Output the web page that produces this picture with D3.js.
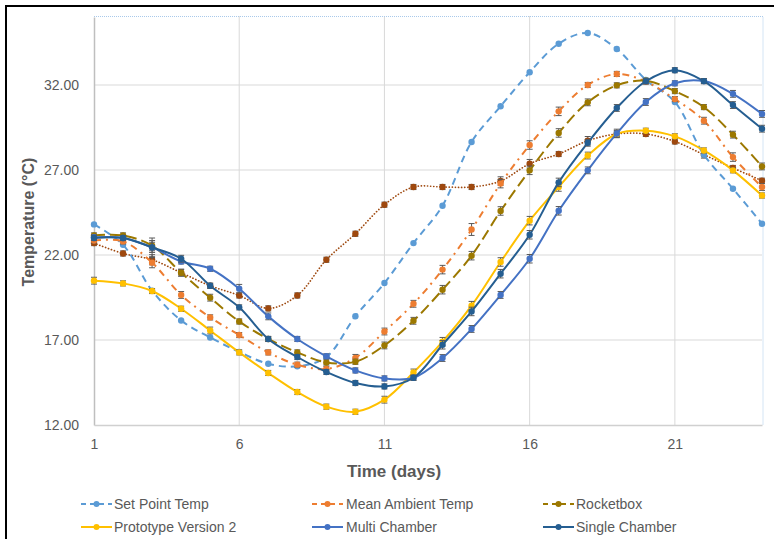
<!DOCTYPE html>
<html lang="en">
<head>
	<meta charset="UTF-8">
	<title>Temperature over time</title>

	<script type="text/javascript" src="https://cdn.jsdelivr.net/npm/d3@7"></script>

	<style>
		body {
			margin: 0;
			background: #fff;
		}
		text {
			font-family: "Liberation Sans", Arial, sans-serif;
			fill: #595959;
		}
	</style>

</head>
<body>

<script type="text/javascript">
	var days = [1, 2, 3, 4, 5, 6, 7, 8, 9, 10, 11, 12, 13, 14, 15, 16, 17, 18, 19, 20, 21, 22, 23, 24];
	var xTicks = [1, 6, 11, 16, 21];
	var yTicks = [12, 17, 22, 27, 32];

	var setPoint = [23.8, 22.6, 19.9, 18.15, 17.15, 16.3, 15.6, 15.45, 16.0, 18.4, 20.35, 22.7, 24.9, 28.65, 30.75, 32.75, 34.43, 35.06, 34.12, 32.3, 31.0, 27.9, 25.9, 23.84];
	var meanAmbient = [22.85, 22.8, 21.55, 19.65, 18.33, 17.29, 16.27, 15.55, 15.3, 15.95, 17.5, 19.13, 21.14, 23.5, 26.2, 28.47, 30.45, 32.0, 32.65, 32.2, 31.17, 29.9, 27.76, 26.0];
	var rocketbox = [23.15, 23.15, 22.55, 20.96, 19.49, 18.09, 17.06, 16.27, 15.68, 15.72, 16.68, 18.13, 19.96, 21.96, 24.59, 26.98, 29.18, 30.98, 31.98, 32.25, 31.64, 30.7, 29.08, 27.21];
	var prototype2 = [20.49, 20.33, 19.88, 18.84, 17.56, 16.27, 15.06, 13.94, 13.08, 12.78, 13.49, 15.09, 16.9, 19.02, 21.59, 24.02, 26.0, 27.85, 29.12, 29.31, 28.98, 28.15, 26.98, 25.5];
	var multiChamber = [23.04, 23.0, 22.45, 21.62, 21.19, 20.02, 18.39, 17.06, 16.04, 15.21, 14.74, 14.78, 15.94, 17.65, 19.65, 21.78, 24.6, 26.98, 29.15, 31.0, 32.1, 32.23, 31.48, 30.3];
	var singleChamber = [23.0, 23.0, 22.45, 21.78, 20.19, 18.92, 17.06, 16.0, 15.12, 14.47, 14.27, 14.78, 16.72, 18.68, 20.9, 23.19, 26.27, 28.6, 30.65, 32.22, 32.87, 32.23, 30.82, 29.43];
	var series7 = [22.7, 22.09, 21.72, 20.96, 20.19, 19.62, 18.86, 19.62, 21.72, 23.25, 24.96, 26.0, 26.0, 26.0, 26.35, 27.37, 27.94, 28.72, 29.12, 29.12, 28.68, 27.9, 27.12, 26.37];

	// error bar half-lengths (°C)
	var errMean = [0.15, 0.15, 0.3, 0.2, 0.15, 0.15, 0.15, 0.15, 0.15, 0.2, 0.2, 0.2, 0.25, 0.35, 0.25, 0.25, 0.25, 0.15, 0.15, 0.15, 0.15, 0.2, 0.25, 0.2];
	var errRocket = [0.15, 0.15, 0.3, 0.2, 0.2, 0.15, 0.15, 0.15, 0.15, 0.15, 0.2, 0.2, 0.25, 0.25, 0.25, 0.25, 0.25, 0.2, 0.15, 0.15, 0.15, 0.15, 0.2, 0.2];
	var errProto = [0.2, 0.15, 0.15, 0.15, 0.2, 0.15, 0.15, 0.15, 0.15, 0.15, 0.2, 0.2, 0.25, 0.25, 0.25, 0.25, 0.25, 0.2, 0.15, 0.15, 0.15, 0.15, 0.15, 0.15];
	var errMulti = [0.15, 0.15, 0.3, 0.15, 0.15, 0.25, 0.2, 0.15, 0.15, 0.15, 0.15, 0.15, 0.2, 0.2, 0.2, 0.25, 0.25, 0.2, 0.25, 0.2, 0.15, 0.15, 0.2, 0.2];
	var errSingle = [0.15, 0.15, 0.55, 0.2, 0.15, 0.15, 0.15, 0.15, 0.15, 0.15, 0.15, 0.15, 0.25, 0.25, 0.25, 0.25, 0.25, 0.2, 0.2, 0.15, 0.15, 0.15, 0.2, 0.2];
	var err7 = [0.15, 0.15, 0.3, 0.2, 0.15, 0.15, 0.15, 0.15, 0.15, 0.15, 0.15, 0.15, 0.15, 0.15, 0.25, 0.25, 0.15, 0.25, 0.2, 0.15, 0.15, 0.2, 0.15, 0.15];

	window.onload = function () {

		var W = 774, H = 539;
		var left = 94, right = 762, top = 17, bottom = 425;

		var svg = d3.select('body')
			.append('svg')
			.attr('width', W)
			.attr('height', H);

		svg.append('rect')
			.attr('width', W).attr('height', H)
			.attr('fill', '#fff');

		// outer chart frame (runs off the right / bottom edges)
		svg.append('rect')
			.attr('x', 6).attr('y', 6)
			.attr('width', 820).attr('height', 600)
			.attr('fill', 'none')
			.attr('stroke', '#000')
			.attr('stroke-width', 2);

		var x = d3.scaleLinear().domain([1, 24]).range([left, right]);
		var y = d3.scaleLinear().domain([12, 36]).range([bottom, top]);

		// gridlines
		svg.append('g')
			.selectAll('line')
			.data(yTicks.slice(1))
			.enter().append('line')
			.attr('x1', left).attr('x2', right)
			.attr('y1', function (d) { return y(d); })
			.attr('y2', function (d) { return y(d); })
			.attr('stroke', '#d9d9d9');

		svg.append('g')
			.selectAll('line')
			.data(xTicks.slice(1))
			.enter().append('line')
			.attr('x1', function (d) { return x(d); })
			.attr('x2', function (d) { return x(d); })
			.attr('y1', top - 1).attr('y2', bottom)
			.attr('stroke', '#d9d9d9');

		// plot area border (top / right) dotted light blue
		svg.append('path')
			.attr('d', 'M' + left + ',' + (top - 0.5) + 'H' + (right + 1) + 'V' + bottom)
			.attr('fill', 'none')
			.attr('stroke', '#a9c9ea')
			.attr('stroke-width', 1)
			.attr('stroke-dasharray', '1,1');

		// axes
		var yAxis = d3.axisLeft(y)
			.tickValues(yTicks)
			.tickSize(0)
			.tickPadding(15)
			.tickFormat(d3.format('.2f'));

		var gy = svg.append('g')
			.attr('transform', 'translate(' + left + ',0)')
			.call(yAxis);
		gy.select('.domain').attr('stroke', '#bfbfbf').attr('stroke-width', 1.5);
		gy.selectAll('text').style('font-size', '14px').attr('fill', '#595959');

		var xAxis = d3.axisBottom(x)
			.tickValues(xTicks)
			.tickSize(0)
			.tickPadding(14);

		var gx = svg.append('g')
			.attr('transform', 'translate(0,' + bottom + ')')
			.call(xAxis);
		gx.select('.domain').attr('stroke', '#d0d0d0').attr('stroke-width', 1.5);
		gx.selectAll('text').style('font-size', '14px').attr('fill', '#595959');

		// axis titles
		svg.append('text')
			.attr('x', 394).attr('y', 477)
			.attr('text-anchor', 'middle')
			.style('font-size', '17px')
			.style('font-weight', 'bold')
			.text('Time (days)');

		svg.append('text')
			.attr('transform', 'translate(34,222) rotate(-90)')
			.attr('text-anchor', 'middle')
			.style('font-size', '16px')
			.style('font-weight', 'bold')
			.text('Temperature (°C)');

		var series = [
			{name: 'Series 7', values: series7, err: err7, color: '#9e480e', dash: '0.1,3', width: 1.7, legend: false},
			{name: 'Set Point Temp', values: setPoint, err: null, color: '#5b9bd5', dash: '7,5', width: 2, legend: true},
			{name: 'Mean Ambient Temp', values: meanAmbient, err: errMean, color: '#ed7d31', dash: '7,5,2,5', width: 2, legend: true},
			{name: 'Rocketbox', values: rocketbox, err: errRocket, color: '#9c7800', dash: '11,5', width: 2, legend: true},
			{name: 'Prototype Version 2', values: prototype2, err: errProto, color: '#ffc000', dash: null, width: 2, legend: true},
			{name: 'Multi Chamber', values: multiChamber, err: errMulti, color: '#4472c4', dash: null, width: 2, legend: true},
			{name: 'Single Chamber', values: singleChamber, err: errSingle, color: '#255e91', dash: null, width: 2, legend: true}
		];

		var line = d3.line()
			.curve(d3.curveCatmullRom.alpha(0.5))
			.x(function (d) { return x(d.day); })
			.y(function (d) { return y(d.v); });

		series.forEach(function (s) {
			var pts = days.map(function (d, i) {
				return {day: d, v: s.values[i], e: s.err ? s.err[i] : 0};
			});
			var g = svg.append('g');

			g.append('path')
				.datum(pts)
				.attr('d', line)
				.attr('fill', 'none')
				.attr('stroke', s.color)
				.attr('stroke-width', s.width)
				.attr('stroke-linecap', s.legend ? 'butt' : 'round')
				.attr('stroke-dasharray', s.dash);

			if (s.err) {
				var eb = g.selectAll('.eb')
					.data(pts)
					.enter().append('g')
					.attr('stroke', '#595959')
					.attr('stroke-width', 1);
				eb.append('line')
					.attr('x1', function (d) { return x(d.day); })
					.attr('x2', function (d) { return x(d.day); })
					.attr('y1', function (d) { return y(d.v - d.e); })
					.attr('y2', function (d) { return y(d.v + d.e); });
				eb.append('line')
					.attr('x1', function (d) { return x(d.day) - 3; })
					.attr('x2', function (d) { return x(d.day) + 3; })
					.attr('y1', function (d) { return y(d.v - d.e); })
					.attr('y2', function (d) { return y(d.v - d.e); });
				eb.append('line')
					.attr('x1', function (d) { return x(d.day) - 3; })
					.attr('x2', function (d) { return x(d.day) + 3; })
					.attr('y1', function (d) { return y(d.v + d.e); })
					.attr('y2', function (d) { return y(d.v + d.e); });
			}

			g.selectAll('circle')
				.data(pts)
				.enter().append('circle')
				.attr('cx', function (d) { return x(d.day); })
				.attr('cy', function (d) { return y(d.v); })
				.attr('r', 3.2)
				.attr('fill', s.color);
		});

		// legend
		var legendCols = [81, 312, 543];
		var legendRows = [504, 527];
		var shown = series.filter(function (s) { return s.legend; });

		shown.forEach(function (s, i) {
			var lx = legendCols[i % 3];
			var ly = legendRows[Math.floor(i / 3)];
			var lg = svg.append('g').attr('transform', 'translate(' + lx + ',' + ly + ')');
			lg.append('line')
				.attr('x1', 0).attr('x2', 31)
				.attr('y1', 0).attr('y2', 0)
				.attr('stroke', s.color)
				.attr('stroke-width', 2)
				.attr('stroke-dasharray', s.dash ? '5,4' : null);
			lg.append('circle')
				.attr('cx', 15.5).attr('cy', 0).attr('r', 3)
				.attr('fill', s.color);
			lg.append('text')
				.attr('x', i % 3 === 1 ? 34 : 33)
				.attr('y', 5)
				.style('font-size', '14px')
				.text(s.name);
		});
	};
</script>
</body>
</html>
